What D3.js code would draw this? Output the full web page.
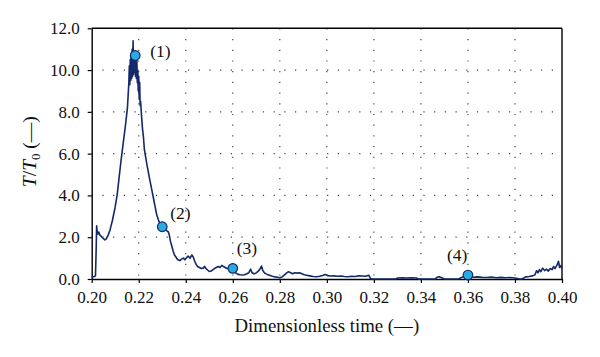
<!DOCTYPE html>
<html><head><meta charset="utf-8">
<script src="https://cdn.jsdelivr.net/npm/d3@7"></script>
<style>body{margin:0;background:#fff}svg{display:block}</style>
</head><body>
<svg id="c" width="600" height="357"></svg>
<script>
const tValues = [0.2000,0.2012,0.2016,0.2019,0.2021,0.2023,0.2026,0.2030,0.2035,0.2040,0.2048,0.2056,0.2062,0.2070,0.2078,0.2088,0.2099,0.2108,0.2115,0.2124,0.2134,0.2143,0.2152,
0.2158,0.2160,0.2162,0.2164,0.2166,0.2168,0.2170,0.2172,0.2174,0.2176,0.2178,0.2180,0.2182,0.2184,0.2186,0.2188,0.2190,0.2192,0.2194,0.2196,0.2198,0.2200,0.2202,0.2204,0.2206,0.2208,
0.2212,0.2216,0.2220,0.2224,0.2230,0.2236,0.2241,0.2248,0.2255,0.2262,0.2269,0.2276,0.2283,0.2290,0.2298,0.2305,0.2312,0.2320,0.2326,0.2330,0.2335,0.2340,0.2346,0.2352,0.2358,0.2366,0.2375,0.2382,0.2390,0.2396,0.2402,0.2410,0.2418,0.2426,0.2432,0.2438,0.2444,0.2450,0.2458,0.2466,0.2474,0.2480,0.2486,0.2494,0.2500,0.2508,0.2516,0.2522,0.2530,0.2538,0.2546,0.2553,0.2560,0.2568,0.2576,0.2585,0.2592,0.2600,0.2606,0.2614,0.2622,0.2630,0.2640,0.2650,0.2660,0.2668,0.2676,0.2682,0.2690,0.2698,0.2706,0.2714,0.2722,0.2728,0.2736,0.2746,0.2756,0.2768,0.2780,0.2790,0.2800,0.2810,0.2820,0.2828,0.2837,0.2846,0.2855,0.2864,0.2874,0.2884,0.2894,0.2904,0.2914,0.2928,0.2942,0.2956,0.2970,0.2982,0.2993,0.3004,0.3016,0.3030,0.3045,0.3060,0.3075,0.3090,0.3105,0.3120,0.3135,0.3150,0.3165,0.3178,0.3184,0.3190,0.3295,0.3300,0.3320,0.3340,0.3360,0.3380,0.3390,0.3460,0.3468,0.3478,0.3488,0.3500,0.3560,0.3575,0.3590,0.3600,0.3612,0.3625,0.3640,0.3660,0.3680,0.3700,0.3720,0.3740,0.3760,0.3780,0.3800,0.3820,0.3830,0.3845,0.3860,0.3875,0.3885,0.3892,0.3898,0.3904,0.3910,0.3918,0.3926,0.3934,0.3942,0.3950,0.3958,0.3964,0.3970,0.3978,0.3985,0.3990,0.3996,0.4000];
const ratioValues = [0.10,0.12,0.15,1.4,2.55,2.3,2.15,2.25,2.1,2.05,1.95,1.87,1.92,2.1,2.35,2.8,3.4,4.0,4.7,5.6,6.5,7.3,8.2,
9.4,10.2,9.3,10.5,9.5,10.8,9.6,11.0,9.7,11.4,9.8,10.9,9.9,10.8,9.7,10.6,9.6,10.5,9.4,10.0,9.0,9.7,8.6,9.4,8.3,8.5,
7.8,7.2,6.8,6.2,5.8,5.4,5.1,4.7,4.3,3.9,3.5,3.1,2.85,2.65,2.5,2.45,2.38,2.3,2.25,2.1,1.8,1.6,1.35,1.15,1.05,0.92,0.88,0.95,1.0,0.92,1.0,1.1,1.0,1.15,1.05,0.85,0.7,0.6,0.55,0.5,0.52,0.6,0.5,0.42,0.36,0.38,0.45,0.5,0.55,0.6,0.55,0.65,0.6,0.55,0.5,0.48,0.5,0.51,0.4,0.28,0.22,0.2,0.19,0.2,0.25,0.3,0.47,0.3,0.25,0.28,0.35,0.45,0.62,0.4,0.28,0.22,0.18,0.13,0.1,0.08,0.06,0.1,0.2,0.28,0.35,0.3,0.25,0.3,0.28,0.3,0.25,0.2,0.18,0.15,0.12,0.11,0.13,0.17,0.22,0.16,0.14,0.15,0.13,0.14,0.12,0.11,0.13,0.12,0.15,0.14,0.13,0.18,0.05,0.0,0.0,0.05,0.06,0.05,0.06,0.05,0.0,0.0,0.08,0.11,0.06,0.0,0.0,0.08,0.15,0.19,0.12,0.08,0.1,0.08,0.07,0.09,0.06,0.08,0.06,0.07,0.05,0.0,0.0,0.1,0.12,0.15,0.2,0.4,0.3,0.45,0.35,0.52,0.4,0.47,0.38,0.5,0.45,0.6,0.5,0.65,0.85,0.55,0.65,0.5];
const markerT = [0.2185, 0.230, 0.260, 0.360];
const markerV = [10.7, 2.5, 0.51, 0.19];
const markerLabels = ["(1)", "(2)", "(3)", "(4)"];
const xTicks = [0.20,0.22,0.24,0.26,0.28,0.30,0.32,0.34,0.36,0.38,0.40];
const yTicks = [0,2,4,6,8,10,12];

const svg = d3.select("#c");
const L = 91.7, R = 562, T = 28.3, B = 279;
const x = d3.scaleLinear().domain([0.20, 0.40]).range([L, R]);
const y = d3.scaleLinear().domain([0, 12]).range([B, T]);
const serif = "Liberation Serif";

// grid
const g = svg.append("g");
g.selectAll(".vg").data(xTicks.slice(1, -1)).enter().append("line")
  .attr("x1", d => x(d)).attr("x2", d => x(d)).attr("y1", T).attr("y2", B)
  .attr("stroke", "#444").attr("stroke-width", 1.2).attr("stroke-dasharray", "1.2,9.5");
g.selectAll(".hg").data(yTicks.slice(1, -1)).enter().append("line")
  .attr("y1", d => y(d)).attr("y2", d => y(d)).attr("x1", L).attr("x2", R)
  .attr("stroke", "#444").attr("stroke-width", 1.2).attr("stroke-dasharray", "1.2,9.5");

// axes
const xAxis = d3.axisBottom(x).tickValues(xTicks).tickFormat(d3.format(".2f")).tickSizeInner(4).tickSizeOuter(0).tickPadding(8);
const yAxis = d3.axisLeft(y).tickValues(yTicks).tickFormat(d3.format(".1f")).tickSizeInner(4).tickSizeOuter(0).tickPadding(8);
const gx = svg.append("g").attr("transform", `translate(0,${B})`).call(xAxis);
const gy = svg.append("g").attr("transform", `translate(${L},0)`).call(yAxis);
[gx, gy].forEach(a => {
  a.attr("font-family", serif);
  a.select(".domain").attr("stroke", "#000").attr("stroke-width", 1.4);
  a.selectAll(".tick line").attr("stroke", "#000").attr("stroke-width", 1.2);
  a.selectAll(".tick text").attr("font-family", serif).attr("font-size", 17).attr("fill", "#111");
});
// top and right frame
svg.append("line").attr("x1", L).attr("x2", R).attr("y1", T).attr("y2", T).attr("stroke", "#000").attr("stroke-width", 1.4);
svg.append("line").attr("x1", R).attr("x2", R).attr("y1", T).attr("y2", B).attr("stroke", "#000").attr("stroke-width", 1.4);

// line
const data = tValues.map((t, i) => [t, ratioValues[i]]);
svg.append("path").datum(data)
  .attr("d", d3.line().x(d => x(d[0])).y(d => y(d[1])))
  .attr("fill", "none").attr("stroke", "#13296a").attr("stroke-width", 1.6).attr("stroke-linejoin", "round");

// markers
const mk = markerT.map((t, i) => ({t, v: markerV[i], label: markerLabels[i]}));
svg.selectAll(".mk").data(mk).enter().append("circle")
  .attr("cx", d => x(d.t)).attr("cy", d => y(d.v)).attr("r", 4.8)
  .attr("fill", "#29abe2").attr("stroke", "#13296a").attr("stroke-width", 1.2);
const offs = [[15, 2], [8, -8], [4, -14], [-21, -14]];
svg.selectAll(".ml").data(mk).enter().append("text")
  .attr("x", (d, i) => x(d.t) + offs[i][0]).attr("y", (d, i) => y(d.v) + offs[i][1])
  .attr("font-family", serif).attr("font-size", 17.5).attr("fill", "#111")
  .text(d => d.label);

// axis titles
svg.append("text").attr("x", (L + R) / 2).attr("y", 332).attr("text-anchor", "middle")
  .attr("font-family", serif).attr("font-size", 18.8).attr("fill", "#111").text("Dimensionless time (—)");
const yt = svg.append("text").attr("transform", `translate(36,${(T + B) / 2 - 2}) rotate(-90)`)
  .attr("text-anchor", "middle").attr("font-family", serif).attr("font-size", 19.5).attr("fill", "#111");
yt.append("tspan").attr("font-style", "italic").text("T");
yt.append("tspan").text("/");
yt.append("tspan").attr("font-style", "italic").text("T");
yt.append("tspan").attr("font-size", 13).attr("dy", 4).text("0");
yt.append("tspan").attr("dy", -4).text(" (—)");
</script>
</body></html>
